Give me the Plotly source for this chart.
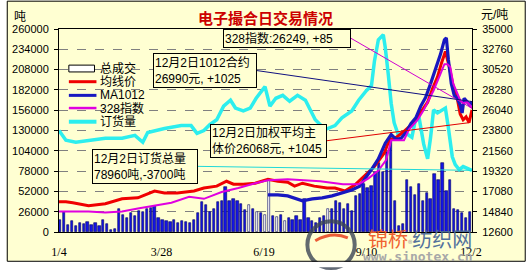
import plotly.graph_objects as go

# ---------------- data ----------------
tick_days = [0, 52, 104, 156, 209]
tick_labels = ["1/4", "3/28", "6/19", "9/10", "12/2"]

# 总成交 (吨), one bar every two trading days
volume = [16000, 25000, 9000, 14000, 8000, 12000, 10000, 13000, 9000, 12000,
          8000, 15000, 10000, 3000, 4000, 30000, 22000, 18000, 24000, 20000,
          27000, 26000, 30000, 31000, 33000, 18000, 16000, 14000, 13000, 15000,
          12000, 14000, 13000, 12000, 15000, 24000, 38000, 34000, 26000, 30000,
          38000, 40000, 58000, 40000, 42000, 40000, 36000, 28000, 34000, 30000,
          26000, 24000, 22000, 68000, 20000, 19000, 22000, 14000, 18000, 15000,
          20000, 16000, 42000, 18000, 14000, 11000, 18000, 21000, 30000, 29000,
          40000, 37000, 29000, 36000, 27000, 46000, 49000, 61000, 56000, 59000,
          77000, 88000, 77000, 103000, 120000, 40000, 8000, 10000, 67000, 58000,
          48000, 61000, 40000, 50000, 42000, 74000, 67000, 88000, 52000, 67000,
          30000, 28000, 24000, 18000, 26000]
volume_hollow = [48, 50, 52, 53, 55, 57, 68]   # bars drawn hollow (white)

# 订货量 (吨)
order_days = [0, 3.5, 8.5, 15, 23.5, 32, 38.5, 42.5, 45, 53.5, 62, 67, 70, 73.5,
              76.5, 80, 83.5, 87, 89.5, 93.5, 97, 100, 104.5, 107, 110, 113.5,
              117, 121, 125, 130, 135, 140, 143.5, 148.5, 152, 156, 158.5, 160,
              162, 164.5, 165.5, 167, 168.5, 170, 172, 175.5, 179, 180.5, 182.5,
              185, 187, 188.5, 190, 192, 194.5, 196, 197.5, 199.5, 201, 203,
              205, 207, 209.5]
order_qty = [130000, 117500, 115000, 117500, 120000, 120000, 123750, 115000,
             127500, 132500, 136250, 136250, 126250, 130000, 137500, 143750,
             161250, 168750, 158750, 155000, 158750, 171250, 186250, 161250,
             171250, 175000, 167500, 175000, 168750, 143750, 131250, 136250,
             146250, 155000, 168750, 181250, 187500, 218750, 246250, 252500,
             236250, 202500, 165000, 140000, 125000, 127500, 121250, 140000,
             148750, 112500, 93750, 121250, 156250, 152500, 156250, 158750,
             133750, 96250, 86250, 80000, 83750, 81250, 78960]

# 328指数 (元/吨)
idx_days = [0, 15, 23.5, 32, 40, 48.5, 57, 66, 73.5, 82.5, 91, 99.5, 106, 116,
            132.5, 144, 152, 157, 162, 166, 168.5, 171.5, 175, 177.5, 182, 185,
            190, 193.5, 195.5, 197, 198.5, 200, 202, 203.5, 205, 207, 208.5,
            209.5]
idx_price = [14862, 14862, 14754, 14862, 15185, 15508, 15831, 16477, 16262,
             17015, 17446, 17985, 18308, 18415, 18200, 17877, 17877, 18523,
             19385, 20569, 22723, 22723, 22723, 23908, 24985, 26061, 28215,
             30046, 31123, 31123, 30800, 28969, 27892, 27138, 26815, 26923,
             26600, 26249]

# 均线价 (元/吨)
avg_days = [0, 3.5, 7, 15, 23.5, 32, 40, 48.5, 53.5, 60, 68.5, 73.5, 80, 85,
            88.5, 93.5, 99.5, 106, 111, 116, 119.5, 123.5, 129.5, 136, 140, 145,
            150, 155, 160, 165, 167.5, 171, 175, 180, 183.5, 187, 189.5, 192,
            194, 196, 198, 200, 202, 203.5, 205, 206.5, 208, 209.5]
avg_price = [15938, 15938, 15831, 15508, 15723, 16262, 16369, 17123, 16908,
             16908, 17123, 17446, 17662, 18200, 17877, 17877, 17985, 18415,
             18200, 18092, 17662, 17985, 17662, 17446, 17446, 17123, 17769,
             18738, 19815, 21323, 22723, 23046, 23692, 24661, 25738, 26923,
             28431, 29723, 31231, 32523, 30800, 28646, 27354, 25631, 24985,
             25308, 24661, 26068]

# MA1012 (元/吨)
ma_days = [106, 111, 116, 121, 123.5, 128.5, 133.5, 138.5, 143.5, 148.5, 152.5,
           155.5, 158.5, 162, 165.5, 168.5, 171, 173.5, 176, 178.5, 181, 183.5,
           186, 188.5, 191, 193.5, 195.5, 196.5, 197.5, 199, 200.5, 202, 203.5,
           204.5, 205.5, 207, 208.5, 209.5]
ma_price = [16692, 16692, 16585, 16262, 16046, 16262, 16369, 16585, 16908,
            17231, 17662, 18523, 19492, 20677, 22400, 23369, 22831, 22938,
            23585, 24554, 25200, 26492, 27462, 28969, 30585, 32200, 33815,
            34031, 31662, 28969, 27677, 27354, 26600, 25738, 27354, 27031,
            26600, 26990]

# ---------------- helpers (pixel -> paper) ----------------
L, R, T, B = 53, 472, 29, 237
def PX(x):
    return (x - L) / (R - L)
def PY(y):
    return (B - y) / (B - T)

BG = "#FFFFD2"
TXT = "Liberation Sans, Noto Sans CJK SC, sans-serif"
CJK = "Noto Sans CJK SC, sans-serif"

fig = go.Figure()

bar_days = [0.5 + 2 * i for i in range(len(volume))]
fills = ["white" if i in volume_hollow else "#1414E6" for i in range(len(volume))]
fig.add_trace(go.Bar(x=bar_days, y=volume, width=1.15, marker=dict(
    color=fills, line=dict(color="#000060", width=0.6)), name="总成交", yaxis="y"))

fig.add_trace(go.Scatter(x=order_days, y=order_qty, mode="lines", name="订货量",
                         line=dict(color="#2CEEEE", width=3.5), yaxis="y"))
fig.add_trace(go.Scatter(x=avg_days, y=avg_price, mode="lines", name="均线价",
                         line=dict(color="#F00000", width=3), yaxis="y2"))
fig.add_trace(go.Scatter(x=ma_days, y=ma_price, mode="lines", name="MA1012",
                         line=dict(color="#1818C0", width=3.2), yaxis="y2"))
fig.add_trace(go.Scatter(x=idx_days, y=idx_price, mode="lines", name="328指数",
                         line=dict(color="#E000E0", width=2), yaxis="y2"))

shapes = []
# chart background & frame
shapes.append(dict(type="rect", xref="paper", yref="paper", layer="below",
                   x0=PX(0), x1=PX(526), y0=PY(267), y1=PY(0),
                   fillcolor=BG, line=dict(width=0)))
# watermark logo
shapes.append(dict(type="circle", xref="paper", yref="paper", layer="above",
                   x0=PX(305), x1=PX(353), y0=PY(274), y1=PY(226),
                   line=dict(color="#3C4656", width=4), opacity=0.8))
shapes.append(dict(type="path", xref="paper", yref="paper", layer="above",
                   path="M %f,%f Q %f,%f %f,%f" % (PX(313), PY(246), PX(330), PY(236), PX(346), PY(243)),
                   line=dict(color="#E8401C", width=3), opacity=0.85))
# cover outside frame
shapes.append(dict(type="rect", xref="paper", yref="paper", layer="above",
                   x0=PX(-2), x1=PX(531), y0=PY(273), y1=PY(267.5),
                   fillcolor="white", line=dict(width=0)))
shapes.append(dict(type="rect", xref="paper", yref="paper", layer="above",
                   x0=PX(526.5), x1=PX(531), y0=PY(273), y1=PY(-2),
                   fillcolor="white", line=dict(width=0)))
shapes.append(dict(type="rect", xref="paper", yref="paper", layer="above",
                   x0=PX(0.5), x1=PX(526), y0=PY(267), y1=PY(0.5),
                   line=dict(color="black", width=1)))

# manual legend
shapes.append(dict(type="rect", xref="paper", yref="paper", layer="above",
                   x0=PX(63), x1=PX(89), y0=PY(73), y1=PY(66),
                   fillcolor="white", line=dict(color="black", width=1)))
leg = [(83, "#F00000", 3), (97, "#1818C0", 3), (110, "#E000E0", 2.5), (124, "#2CEEEE", 4)]
for yy, c, w in leg:
    shapes.append(dict(type="line", xref="paper", yref="paper", layer="above",
                       x0=PX(63), x1=PX(91), y0=PY(yy), y1=PY(yy),
                       line=dict(color=c, width=w)))

annotations = []
for yy, t in [(69, "总成交"), (83, "均线价"), (97, "MA1012"), (110, "328指数"), (124, "订货量")]:
    annotations.append(dict(xref="paper", yref="paper", x=PX(93), y=PY(yy),
                            text=t, showarrow=False, xanchor="left", yanchor="middle",
                            font=dict(family=TXT, size=12, color="black")))

# titles
annotations.append(dict(xref="paper", yref="paper", x=PX(263), y=PY(17), text="<b>电子撮合日交易情况</b>",
                        showarrow=False, xanchor="center", yanchor="middle",
                        font=dict(family=CJK, size=15, color="#CC0000")))
annotations.append(dict(xref="paper", yref="paper", x=PX(13), y=PY(15), text="吨",
                        showarrow=False, xanchor="center", yanchor="middle",
                        font=dict(family=CJK, size=12, color="black")))
annotations.append(dict(xref="paper", yref="paper", x=PX(495), y=PY(15), text="元/吨",
                        showarrow=False, xanchor="center", yanchor="middle",
                        font=dict(family=TXT, size=12, color="black")))

# callouts
box = dict(showarrow=True, arrowhead=0, arrowwidth=1, xanchor="right", yanchor="middle",
           align="left", bgcolor=BG, bordercolor="black", borderwidth=1, borderpad=1,
           font=dict(family=TXT, size=12, color="black"))
annotations.append(dict(box, x=idx_days[-1], y=idx_price[-1], xref="x", yref="y2",
                        text="328指数:26249, +85", ax=-121, ay=-70, arrowcolor="#D000D0", width=124))
annotations.append(dict(box, x=ma_days[-1], y=ma_price[-1], xref="x", yref="y2",
                        text="12月2日1012合约<br>26990元, +1025", ax=-215, ay=-31,
                        arrowcolor="#101080", width=100))
annotations.append(dict(box, x=avg_days[-2], y=avg_price[-2], xref="x", yref="y2",
                        text="12月2日加权平均主<br>体价26068元, +1045", ax=-142, ay=18,
                        arrowcolor="#E00000", width=113))
annotations.append(dict(box, x=order_days[-1], y=order_qty[-1], xref="x", yref="y",
                        text="12月2日订货总量<br>78960吨,-3700吨", ax=-274, ay=-4,
                        arrowcolor="#20D8D8", width=102))

# watermark text
annotations.append(dict(xref="paper", yref="paper", x=PX(419), y=PY(244),
                        text='<span style="color:#F05A28">锦桥</span><span style="color:#999999;font-size:9px">®</span><span style="color:#4A6A9A">纺织网</span>',
                        showarrow=False, xanchor="center", yanchor="middle",
                        font=dict(family=CJK, size=20), opacity=0.95))
annotations.append(dict(xref="paper", yref="paper", x=PX(417), y=PY(262),
                        text="<b>www.sinotex.cn</b>", showarrow=False, xanchor="center",
                        yanchor="middle", font=dict(family="DejaVu Sans Mono", size=13, color="#A8A8A8")))

fig.update_layout(
    width=529, height=271,
    margin=dict(l=L, r=529 - R, t=T, b=271 - B),
    paper_bgcolor="white", plot_bgcolor="rgba(0,0,0,0)",
    showlegend=False, bargap=0,
    shapes=shapes, annotations=annotations,
    xaxis=dict(range=[0, 209.5], tickmode="array", tickvals=tick_days, ticktext=tick_labels,
               showgrid=False, zeroline=False, showline=True, linecolor="black", linewidth=1,
               mirror=True, ticks="", ticklabelstandoff=9,
               tickfont=dict(family="Liberation Serif, serif", size=12, color="black")),
    yaxis=dict(range=[0, 260000], tick0=0, dtick=26000, tickformat="d",
               showgrid=True, gridcolor="#808080", griddash="dash", gridwidth=1,
               zeroline=False, showline=True, linecolor="black", linewidth=1,
               ticks="outside", ticklen=4, tickcolor="black", ticklabelstandoff=3,
               tickfont=dict(family=TXT, size=11, color="black")),
    yaxis2=dict(range=[12600, 35000], tick0=12600, dtick=2240, tickformat="d",
                overlaying="y", side="right", showgrid=False, zeroline=False,
                showline=True, linecolor="black", linewidth=1,
                ticks="outside", ticklen=4, tickcolor="black", ticklabelstandoff=3,
                tickfont=dict(family=TXT, size=11, color="black")),
)

fig.write_html("out.html")
